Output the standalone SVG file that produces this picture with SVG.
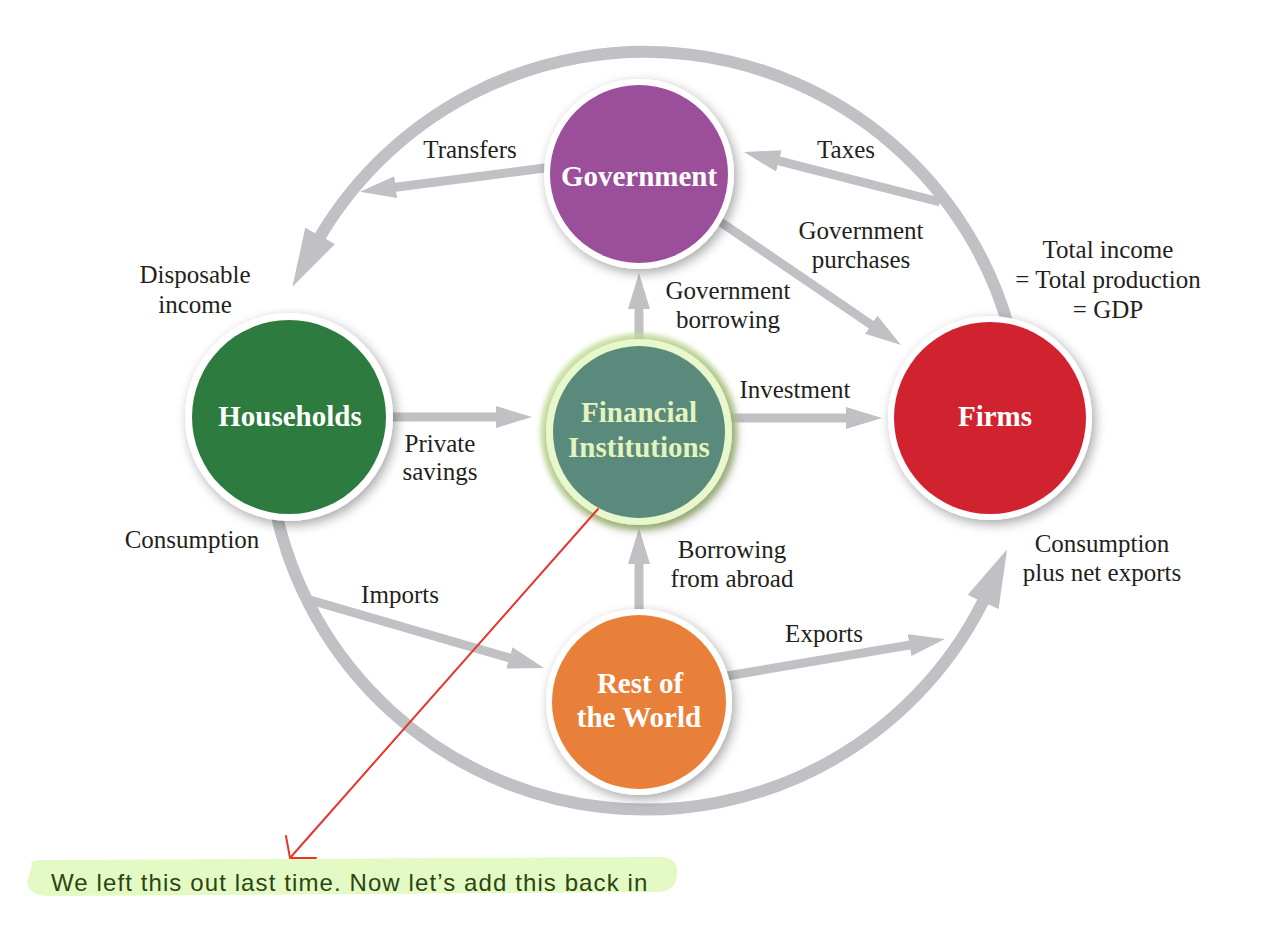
<svg xmlns="http://www.w3.org/2000/svg" width="1266" height="928" viewBox="0 0 1266 928">
<style>
.lbl{font-family:"Liberation Serif","Times New Roman",serif;font-size:25px;fill:#231f20;text-anchor:middle}
.nl{font-family:"Liberation Serif","Times New Roman",serif;font-weight:bold;font-size:29px;fill:#ffffff;text-anchor:middle}
.arc{fill:none;stroke:#c0c0c5;stroke-width:12}
.arr{fill:none;stroke:#c0c0c5;stroke-width:9}
.ring{fill:#ffffff}
.note{font-family:"Liberation Sans",Arial,sans-serif;font-size:24px;letter-spacing:1.1px;fill:#2b4512}
</style>
<defs>
<marker id="bigHead" markerUnits="userSpaceOnUse" viewBox="0 0 58 34" markerWidth="58" markerHeight="34" refX="15" refY="17" orient="auto">
<path d="M0,0 L58,17 L0,34 Z" fill="#c0c0c5"/>
</marker>
<marker id="smallHead" markerUnits="userSpaceOnUse" viewBox="0 0 36 22" markerWidth="36" markerHeight="22" refX="10" refY="11" orient="auto">
<path d="M0,0 L36,11 L0,22 Z" fill="#c0c0c5"/>
</marker>
<filter id="shadow" x="-30%" y="-30%" width="160%" height="160%">
<feDropShadow dx="3" dy="4" stdDeviation="6" flood-color="#000" flood-opacity="0.35"/>
</filter>
<filter id="glow" x="-30%" y="-30%" width="160%" height="160%">
<feGaussianBlur stdDeviation="2"/>
</filter>
</defs>
<rect width="1266" height="928" fill="#ffffff"/>

<g id="connectors">
<path class="arc" d="M1009.5,330 A378,378 0 0 0 313,249" marker-end="url(#bigHead)"/>
<path class="arc" d="M275.6,510 A378,378 0 0 0 989.3,588.4" marker-end="url(#bigHead)"/>
<path class="arr" d="M560,166 L385.8,188.5" marker-end="url(#smallHead)"/>
<path class="arr" d="M940,202 L769.2,158.4" marker-end="url(#smallHead)"/>
<path class="arr" d="M700,208 L879.5,330.4" marker-end="url(#smallHead)"/>
<path class="arr" d="M639,350 L639,299" marker-end="url(#smallHead)"/>
<path class="arr" d="M380,417 L506,417" marker-end="url(#smallHead)"/>
<path class="arr" d="M720,418 L856,418" marker-end="url(#smallHead)"/>
<path class="arr" d="M639,620 L639,554" marker-end="url(#smallHead)"/>
<path class="arr" d="M310,600 L519,660.7" marker-end="url(#smallHead)"/>
<path class="arr" d="M715,678 L919.4,643.4" marker-end="url(#smallHead)"/>
</g>

<g id="government">
<circle class="ring" cx="639" cy="174" r="95" filter="url(#shadow)"/>
<circle cx="639" cy="174" r="89" fill="#9b4f9b"/>
<text class="nl" x="639" y="186">Government</text>
</g>

<g id="households">
<circle class="ring" cx="289" cy="417" r="104" filter="url(#shadow)"/>
<circle cx="289" cy="417" r="97" fill="#2e7b3f"/>
<text class="nl" x="290" y="426">Households</text>
</g>

<g id="financial-institutions">
<circle cx="639" cy="432" r="99" fill="#c9e39c" opacity="0.8" filter="url(#glow)"/>
<circle cx="639" cy="432" r="93" fill="#e8f8cc" filter="url(#shadow)"/>
<circle cx="639" cy="432" r="86" fill="#5a8a7b"/>
<text class="nl" x="639" y="422" style="fill:#e4f4bf">Financial</text>
<text class="nl" x="639" y="457" style="fill:#e4f4bf">Institutions</text>
</g>

<g id="firms">
<circle class="ring" cx="990" cy="418" r="102" filter="url(#shadow)"/>
<circle cx="990" cy="418" r="96" fill="#d1232f"/>
<text class="nl" x="995" y="426">Firms</text>
</g>

<g id="rest-of-the-world">
<circle class="ring" cx="639" cy="702" r="93" filter="url(#shadow)"/>
<circle cx="639" cy="702" r="87" fill="#e9803a"/>
<text class="nl" x="640" y="693">Rest of</text>
<text class="nl" x="639" y="727">the World</text>
</g>

<g id="labels">
<text class="lbl" x="470" y="158">Transfers</text>
<text class="lbl" x="846" y="158">Taxes</text>
<text class="lbl" x="861" y="239">Government</text>
<text class="lbl" x="861" y="268">purchases</text>
<text class="lbl" x="1108" y="258">Total income</text>
<text class="lbl" x="1108" y="288">= Total production</text>
<text class="lbl" x="1108" y="318">= GDP</text>
<text class="lbl" x="195" y="283">Disposable</text>
<text class="lbl" x="195" y="313">income</text>
<text class="lbl" x="728" y="299">Government</text>
<text class="lbl" x="728" y="328">borrowing</text>
<text class="lbl" x="795" y="398">Investment</text>
<text class="lbl" x="440" y="452">Private</text>
<text class="lbl" x="440" y="480">savings</text>
<text class="lbl" x="732" y="558">Borrowing</text>
<text class="lbl" x="732" y="587">from abroad</text>
<text class="lbl" x="192" y="548">Consumption</text>
<text class="lbl" x="400" y="603">Imports</text>
<text class="lbl" x="824" y="642">Exports</text>
<text class="lbl" x="1102" y="552">Consumption</text>
<text class="lbl" x="1102" y="581">plus net exports</text>
</g>

<g id="annotation">
<path d="M32,866 Q27,859 48,860 L658,857 Q680,857 677,876 Q675,893 655,892 L52,896 Q29,897 27,882 Z" fill="#e4fac4"/>
<path d="M598,509 L290,858 M290,858 L286,836 M290,858 L316,858" fill="none" stroke="#e8352b" stroke-width="2" stroke-linecap="round"/>
<text class="note" x="51" y="891">We left this out last time. Now let’s add this back in</text>
</g>
</svg>
